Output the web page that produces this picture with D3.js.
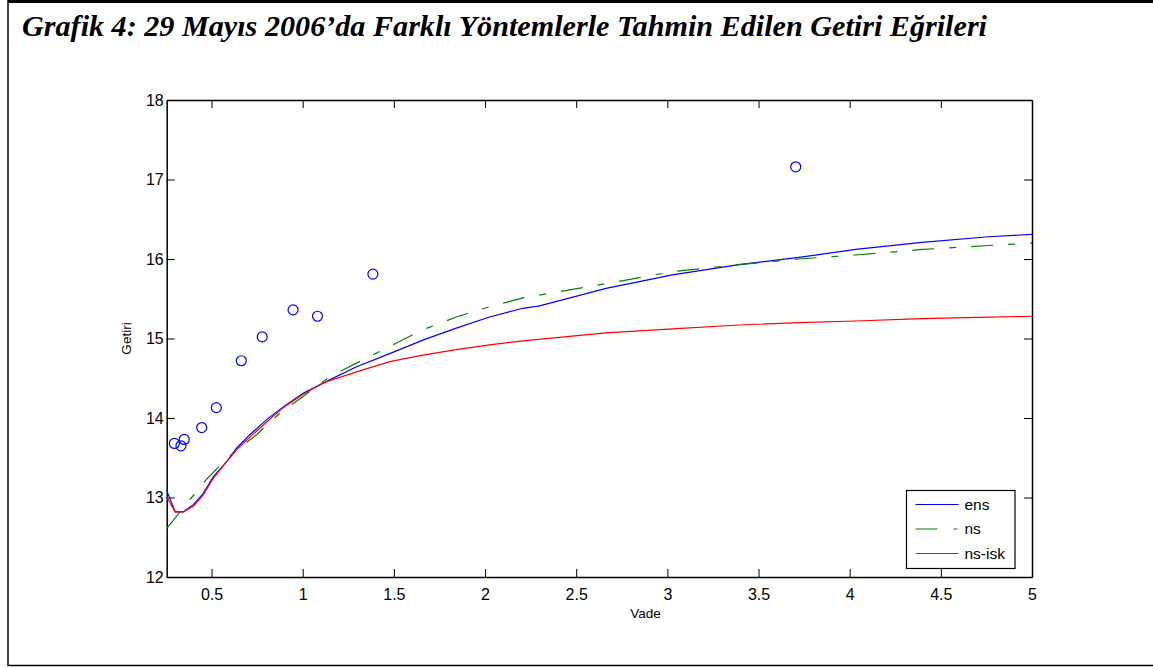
<!doctype html>
<html lang="tr">
<head>
	<meta charset="utf-8">
	<title>Grafik 4</title>
	<script src="https://d3js.org/d3.v7.min.js"></script>
	<style>
		body { margin: 0; background: #fff; }
		svg text { font-family: "Liberation Sans", Arial, sans-serif; }
	</style>
</head>
<body>
	<script>
		var width = 1153;
		var height = 667;

		// observed yields (circles)
		var obsVade  = [0.296, 0.332, 0.350, 0.446, 0.526, 0.663, 0.778, 0.947, 1.081, 1.385, 3.704];
		var obsGetiri = [13.68, 13.65, 13.73, 13.88, 14.13, 14.72, 15.02, 15.36, 15.28, 15.81, 17.16];

		// fitted curves
		var ensVade = [0.254, 0.300, 0.345, 0.400, 0.454, 0.509, 0.583, 0.637, 0.710, 0.802, 0.893, 1.002, 1.148, 1.295, 1.477, 1.659, 1.842, 2.025, 2.207, 2.299, 2.664, 3.028, 3.393, 3.722, 4.033, 4.397, 4.762, 5.0];
		var ensGetiri = [13.09, 12.82, 12.82, 12.91, 13.05, 13.26, 13.45, 13.62, 13.79, 13.98, 14.14, 14.31, 14.48, 14.645, 14.81, 14.98, 15.13, 15.27, 15.38, 15.41, 15.63, 15.80, 15.93, 16.02, 16.12, 16.21, 16.28, 16.31];

		var nsVade = [0.254, 0.327, 0.391, 0.473, 0.546, 0.637, 0.747, 0.874, 1.002, 1.148, 1.295, 1.477, 1.659, 1.842, 2.025, 2.207, 2.664, 3.028, 3.393, 3.722, 4.033, 4.397, 4.762, 5.0];
		var nsGetiri = [12.61, 12.82, 13.00, 13.23, 13.40, 13.60, 13.79, 14.06, 14.27, 14.52, 14.69, 14.90, 15.11, 15.27, 15.40, 15.51, 15.69, 15.84, 15.93, 16.00, 16.05, 16.12, 16.17, 16.20];

		var nsiskVade = [0.254, 0.300, 0.345, 0.400, 0.454, 0.509, 0.583, 0.637, 0.710, 0.802, 0.893, 1.002, 1.110, 1.295, 1.477, 1.659, 1.842, 2.025, 2.207, 2.664, 3.028, 3.393, 3.722, 4.033, 4.397, 4.762, 5.0];
		var nsiskGetiri = [13.01, 12.82, 12.82, 12.89, 13.03, 13.24, 13.45, 13.60, 13.76, 13.95, 14.13, 14.30, 14.44, 14.58, 14.71, 14.79, 14.86, 14.92, 14.97, 15.07, 15.12, 15.17, 15.20, 15.22, 15.25, 15.27, 15.28];

		var xTicks = [0.5, 1, 1.5, 2, 2.5, 3, 3.5, 4, 4.5, 5];
		var yTicks = [12, 13, 14, 15, 16, 17, 18];
		var legendText = ["ens", "ns", "ns-isk"];

		var svg = d3.select("body").append("svg")
			.attr("width", width)
			.attr("height", height);

		// page frame
		svg.append("line").attr("x1", 8).attr("x2", width).attr("y1", 1.5).attr("y2", 1.5)
			.attr("stroke", "#000").attr("stroke-width", 3);
		svg.append("line").attr("x1", 8).attr("x2", 8).attr("y1", 0).attr("y2", 666)
			.attr("stroke", "#000").attr("stroke-width", 1.5);
		svg.append("line").attr("x1", 8).attr("x2", width).attr("y1", 665.5).attr("y2", 665.5)
			.attr("stroke", "#000").attr("stroke-width", 1.5);

		// title
		svg.append("text")
			.attr("x", 22)
			.attr("y", 36)
			.style("font-family", "'Liberation Serif', 'Times New Roman', serif")
			.style("font-weight", "bold")
			.style("font-style", "italic")
			.style("font-size", "30px")
			.attr("textLength", 965)
			.attr("lengthAdjust", "spacingAndGlyphs")
			.text("Grafik 4: 29 Mayıs 2006’da Farklı Yöntemlerle Tahmin Edilen Getiri Eğrileri");

		var x = d3.scaleLinear().domain([0.254, 5]).range([166.7, 1032]);
		var y = d3.scaleLinear().domain([12, 18]).range([577, 100]);

		var fmt = function(d) { return String(d); };

		// axes (ticks inward, box on)
		var gx = svg.append("g").attr("transform", "translate(0," + y(12) + ")")
			.call(d3.axisBottom(x).tickValues(xTicks).tickFormat(fmt).tickSizeInner(-8).tickSizeOuter(0).tickPadding(12));
		var gxTop = svg.append("g").attr("transform", "translate(0," + y(18) + ")")
			.call(d3.axisTop(x).tickValues(xTicks).tickFormat("").tickSizeInner(-8).tickSizeOuter(0));
		var gy = svg.append("g").attr("transform", "translate(" + x(0.254) + ",0)")
			.call(d3.axisLeft(y).tickValues(yTicks).tickFormat(fmt).tickSizeInner(-8).tickSizeOuter(0).tickPadding(4));
		var gyRight = svg.append("g").attr("transform", "translate(" + x(5) + ",0)")
			.call(d3.axisRight(y).tickValues(yTicks).tickFormat("").tickSizeInner(-8).tickSizeOuter(0));

		svg.selectAll(".domain").attr("stroke", "#000").attr("stroke-width", 1.5);
		svg.selectAll(".tick line").attr("stroke", "#000");
		svg.selectAll(".tick text").style("font-size", "16px").attr("fill", "#000");
		gy.selectAll(".tick text").attr("x", -3);

		// axis labels
		svg.append("text")
			.attr("x", x(2.88)).attr("y", 618)
			.attr("text-anchor", "middle")
			.style("font-size", "13.5px")
			.text("Vade");
		svg.append("text")
			.attr("transform", "translate(131," + y(15) + ") rotate(-90)")
			.attr("text-anchor", "middle")
			.style("font-size", "13.5px")
			.text("Getiri");

		// curves
		var series = [
			{name: "ens", vade: ensVade, getiri: ensGetiri, color: "#0000ff", dash: null},
			{name: "ns", vade: nsVade, getiri: nsGetiri, color: "#008000", dash: "22,15,7,15"},
			{name: "ns-isk", vade: nsiskVade, getiri: nsiskGetiri, color: "#ff0000", dash: null}
		];

		var line = d3.line()
			.x(function(d) { return x(d[0]); })
			.y(function(d) { return y(d[1]); });

		svg.selectAll("path.curve")
			.data(series)
			.enter()
			.append("path")
			.attr("class", "curve")
			.attr("fill", "none")
			.attr("stroke", function(d) { return d.color; })
			.attr("stroke-width", 1.2)
			.attr("stroke-dasharray", function(d) { return d.dash; })
			.attr("d", function(d) { return line(d3.zip(d.vade, d.getiri)); });

		// observed points
		svg.selectAll("circle.obs")
			.data(d3.zip(obsVade, obsGetiri))
			.enter()
			.append("circle")
			.attr("class", "obs")
			.attr("cx", function(d) { return x(d[0]); })
			.attr("cy", function(d) { return y(d[1]); })
			.attr("r", 5)
			.attr("fill", "none")
			.attr("stroke", "#0000ff")
			.attr("stroke-width", 1.2);

		// legend
		var legend = svg.append("g").attr("transform", "translate(906.5,490.5)");
		legend.append("rect")
			.attr("width", 108.5)
			.attr("height", 78)
			.attr("fill", "#fff")
			.attr("stroke", "#000")
			.attr("stroke-width", 1.2);

		var item = legend.selectAll("g.item")
			.data(series)
			.enter()
			.append("g")
			.attr("class", "item")
			.attr("transform", function(d, i) { return "translate(0," + (14 + i * 24.5) + ")"; });

		item.append("line")
			.attr("x1", 9).attr("x2", 52)
			.attr("stroke", function(d) { return d.color; })
			.attr("stroke-width", 1.2)
			.attr("stroke-dasharray", function(d) { return d.dash ? "22,16,4,16" : null; });

		item.append("text")
			.data(legendText)
			.attr("x", 58)
			.attr("dy", "0.35em")
			.style("font-size", "15.5px")
			.text(function(d) { return d; });
	</script>
</body>
</html>
